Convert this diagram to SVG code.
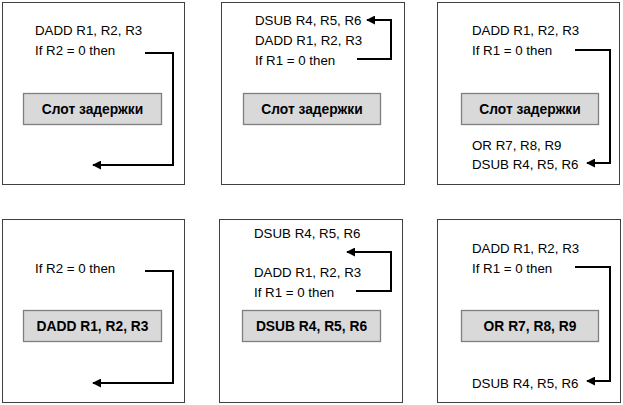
<svg xmlns="http://www.w3.org/2000/svg" width="623" height="405" viewBox="0 0 623 405">
<defs>
<marker id="ah" viewBox="0 0 10 10" refX="9" refY="5" markerWidth="4.5" markerHeight="4.5" orient="auto" markerUnits="strokeWidth">
<path d="M0,0 L10,5 L0,10 z" fill="#000"/>
</marker>
<style>
.panel{fill:#fff;stroke:#404040;stroke-width:1}
.slot{fill:#d9d9d9;stroke:#7f7f7f;stroke-width:1.3}
.t{font-family:"Liberation Sans",Arial,sans-serif;font-size:13.3px;fill:#000}
.b{font-family:"Liberation Sans",Arial,sans-serif;font-size:13.8px;font-weight:bold;fill:#000;text-anchor:middle}
.c{fill:none;stroke:#000;stroke-width:2;marker-end:url(#ah)}
</style>
</defs>
<rect width="623" height="405" fill="#fff"/>
<g id="panel1">
<rect class="panel" x="2.5" y="2.5" width="182" height="182"/>
<text class="t" x="35" y="35">DADD R1, R2, R3</text>
<text class="t" x="35" y="55">If R2 = 0 then</text>
<rect class="slot" x="23.5" y="93.5" width="138" height="31"/>
<text class="b" x="92.5" y="114">Слот задержки</text>
</g>
<g id="panel2">
<rect class="panel" x="221.5" y="2.5" width="183" height="182"/>
<text class="t" x="255" y="25">DSUB R4, R5, R6</text>
<text class="t" x="255" y="45">DADD R1, R2, R3</text>
<text class="t" x="255" y="65">If R1 = 0 then</text>
<rect class="slot" x="243.5" y="93.5" width="137" height="31"/>
<text class="b" x="312" y="114">Слот задержки</text>
</g>
<g id="panel3">
<rect class="panel" x="437.5" y="2.5" width="182" height="182"/>
<text class="t" x="472" y="35">DADD R1, R2, R3</text>
<text class="t" x="472" y="55">If R1 = 0 then</text>
<rect class="slot" x="461.5" y="93.5" width="137" height="31"/>
<text class="b" x="530" y="114">Слот задержки</text>
<text class="t" x="472" y="150">OR R7, R8, R9</text>
<text class="t" x="472" y="169">DSUB R4, R5, R6</text>
</g>
<g id="panel4">
<rect class="panel" x="2.5" y="219.5" width="182" height="183"/>
<text class="t" x="35" y="273">If R2 = 0 then</text>
<rect class="slot" x="23.5" y="310.5" width="138" height="31"/>
<text class="b" x="92.5" y="331">DADD R1, R2, R3</text>
</g>
<g id="panel5">
<rect class="panel" x="219.5" y="219.5" width="183" height="183"/>
<text class="t" x="254" y="238">DSUB R4, R5, R6</text>
<text class="t" x="254" y="277">DADD R1, R2, R3</text>
<text class="t" x="254" y="297">If R1 = 0 then</text>
<rect class="slot" x="242.5" y="310.5" width="138" height="31"/>
<text class="b" x="311.5" y="331">DSUB R4, R5, R6</text>
</g>
<g id="panel6">
<rect class="panel" x="437.5" y="219.5" width="183" height="183"/>
<text class="t" x="472" y="253">DADD R1, R2, R3</text>
<text class="t" x="472" y="273">If R1 = 0 then</text>
<rect class="slot" x="461.5" y="310.5" width="137" height="31"/>
<text class="b" x="530" y="331">OR R7, R8, R9</text>
<text class="t" x="472" y="388">DSUB R4, R5, R6</text>
</g>
<g id="connectors">
<polyline class="c" points="145,53 173,53 173,165 93,165"/>
<polyline class="c" points="357,59 391,59 391,20 367,20"/>
<polyline class="c" points="575,50 610,50 610,163 587,163"/>
<polyline class="c" points="145,271 173,271 173,383 93,383"/>
<polyline class="c" points="356,291 391,291 391,252 347,252"/>
<polyline class="c" points="575,267 610,267 610,381 587,381"/>
</g>
</svg>
